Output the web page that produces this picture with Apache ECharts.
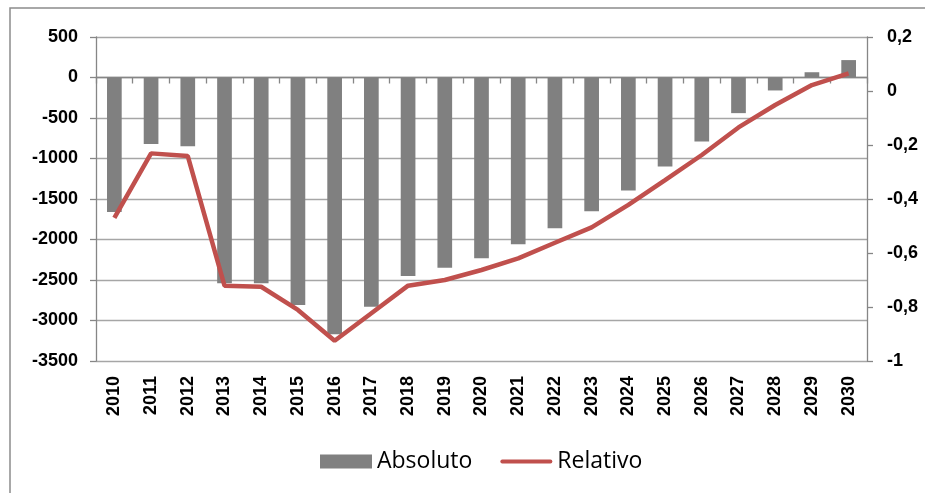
<!DOCTYPE html>
<html>
<head>
<meta charset="utf-8">
<script src="https://cdn.jsdelivr.net/npm/echarts@6/dist/echarts.min.js"></script>
<style>
  html, body { margin: 0; padding: 0; background: #fff; }
  #chart { width: 925px; height: 493px; }
</style>
</head>
<body>
<div id="chart"></div>
<script>
// years on the x axis
const years = ["2010", "2011", "2012", "2013", "2014", "2015", "2016", "2017", "2018", "2019", "2020",
  "2021", "2022", "2023", "2024", "2025", "2026", "2027", "2028", "2029", "2030"];

// absolute change (left axis)
const absoluto = [-1660, -820, -850, -2540, -2540, -2810, -3170, -2830, -2450, -2350, -2230,
  -2060, -1860, -1650, -1395, -1100, -790, -440, -160, 65, 215];

// relative change (right axis)
const relativo = [-0.47, -0.231, -0.241, -0.721, -0.725, -0.811, -0.925, -0.823, -0.721, -0.70, -0.663,
  -0.62, -0.562, -0.505, -0.422, -0.33, -0.237, -0.135, -0.052, 0.022, 0.065];

const chart = echarts.init(document.getElementById("chart"));

const labelFont = {
  fontFamily: "Liberation Sans",
  fontWeight: "bold",
  fontSize: 18,
  color: "#000",
};

// thin rounded bar for the line legend; the extra moveTo points keep the icon's box 55x14
const lineIcon = "path://M0,0 M0,14 M2,5 L53,5 A2,2 0 0 1 53,9 L2,9 A2,2 0 0 1 2,5 Z";

const option = {
  animation: false,
  grid: { left: 96, right: 58, top: 37, bottom: 132 },
  graphic: [
    {
      type: "rect",
      shape: { x: 10, y: 8, width: 1000, height: 600 },
      style: { fill: "none", stroke: "#8c8c8c", lineWidth: 1.5 },
      silent: true,
    },
  ],
  legend: {
    left: 315,
    top: 445,
    itemWidth: 52,
    itemHeight: 14,
    itemGap: 28,
    textStyle: { fontFamily: "Open Sans", fontSize: 23, color: "#000" },
    data: [
      { name: "Absoluto", icon: "rect" },
      { name: "Relativo", icon: lineIcon },
    ],
  },
  xAxis: [
    {
      // labels at the bottom of the plot
      type: "category",
      data: years,
      position: "bottom",
      axisLine: { show: false, onZero: false },
      axisTick: { show: false },
      axisLabel: Object.assign({ rotate: 90, margin: 15, interval: 0 }, labelFont),
    },
    {
      // axis line with ticks sitting on zero
      type: "category",
      data: years,
      position: "bottom",
      axisLine: { show: true, onZero: true, onZeroAxisIndex: 0, lineStyle: { color: "#868686", width: 1.3 } },
      axisTick: { show: true, length: 6, lineStyle: { color: "#868686", width: 1.3 } },
      axisLabel: { show: false },
      splitLine: { show: false },
    },
  ],
  yAxis: [
    {
      type: "value",
      min: -3500,
      max: 500,
      interval: 500,
      axisLine: { show: true, lineStyle: { color: "#868686", width: 1.3 } },
      axisTick: { show: true, length: 6, lineStyle: { color: "#868686", width: 1.3 } },
      axisLabel: Object.assign({ margin: 18, formatter: (v) => String(v) }, labelFont),
      splitLine: { lineStyle: { color: "#a6a6a6", width: 1.3 } },
    },
    {
      type: "value",
      min: -1,
      max: 0.2,
      interval: 0.2,
      position: "right",
      axisLine: { show: true, lineStyle: { color: "#868686", width: 1.3 } },
      axisTick: { show: true, length: 6, lineStyle: { color: "#868686", width: 1.3 } },
      axisLabel: Object.assign(
        {
          margin: 20,
          formatter: (v) => String(+v.toFixed(1)).replace(".", ","),
        },
        labelFont
      ),
      splitLine: { show: false },
    },
  ],
  series: [
    {
      name: "Absoluto",
      type: "bar",
      xAxisIndex: 0,
      yAxisIndex: 0,
      data: absoluto,
      barWidth: "40%",
      itemStyle: { color: "#808080" },
    },
    {
      name: "Relativo",
      type: "line",
      xAxisIndex: 0,
      yAxisIndex: 1,
      data: relativo,
      symbol: "none",
      z: 5,
      lineStyle: { color: "#c0504d", width: 4.5 },
      itemStyle: { color: "#c0504d" },
    },
  ],
};

chart.setOption(option);
</script>
</body>
</html>
